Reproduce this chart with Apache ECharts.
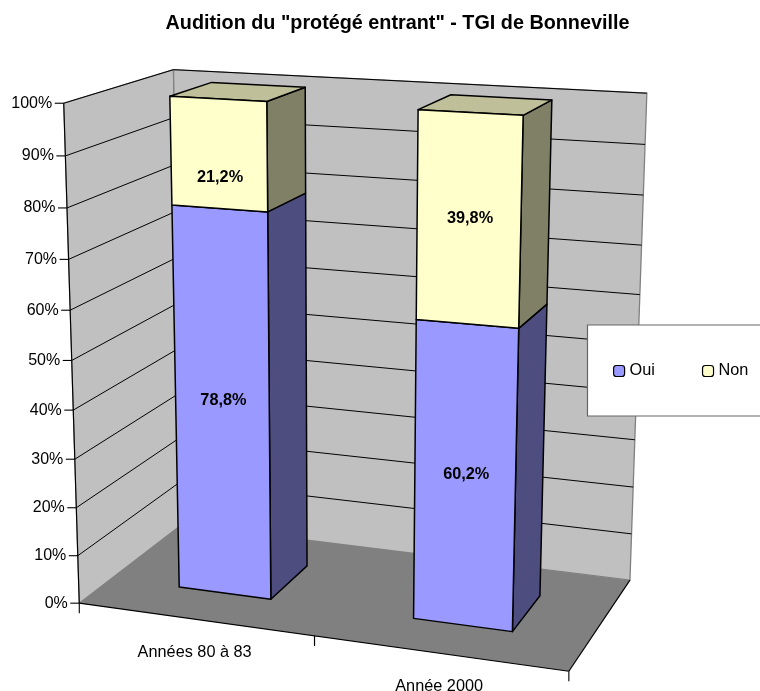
<!DOCTYPE html>
<html><head><meta charset="utf-8">
<style>html,body{margin:0;padding:0;background:#fff}#c{width:760px;height:691px}</style>
<script src="https://cdn.jsdelivr.net/npm/echarts@6/dist/echarts.min.js"></script>
</head><body><div id="c"></div>
<script>
const titleText = 'Audition du "protégé entrant" - TGI de Bonneville';
const categories = ['Années 80 à 83', 'Année 2000'];
const oui = [78.8, 60.2];
const non = [21.2, 39.8];
const yTicks = [0, 10, 20, 30, 40, 50, 60, 70, 80, 90, 100];

const FONT = '"Liberation Sans", Arial, sans-serif';
const G = {left: 0, top: 0, width: 760, height: 691};
const BAR_FRAC = 0.40, Z0 = 0.30, Z1 = 0.705;

// Camera calibration of the 3-D box: [x, y, z] in unit box -> picture position
const cameraFit = [
  [0,0,0, 81,603],[0,1,0, 62.5,103],[0,1,1, 175,70],[0,0,1, 180,525],
  [1,1,1, 647,93],[1,0,1, 631,579],[1,0,0, 568,672],
  [0,.5,0, 71.5,360],[.5,0,0, 315,636],[1,.6,1, 639,295],[1,.3,1, 635,440]
];
function solve(M, b) {
  const n = b.length, A = M.map((r, i) => r.concat(b[i]));
  for (let i = 0; i < n; i++) {
    let p = i; for (let k = i + 1; k < n; k++) if (Math.abs(A[k][i]) > Math.abs(A[p][i])) p = k;
    [A[i], A[p]] = [A[p], A[i]];
    for (let k = i + 1; k < n; k++) { const f = A[k][i] / A[i][i]; for (let j = i; j <= n; j++) A[k][j] -= f * A[i][j]; }
  }
  const x = Array(n).fill(0);
  for (let i = n - 1; i >= 0; i--) { let s = A[i][n]; for (let j = i + 1; j < n; j++) s -= A[i][j] * x[j]; x[i] = s / A[i][i]; }
  return x;
}
const P = (function () {
  const rows = [], rhs = [];
  cameraFit.forEach(([X, Y, Z, a, b]) => {
    const u = a / 1000, v = b / 1000;
    rows.push([X, Y, Z, 1, 0, 0, 0, 0, -u * X, -u * Y, -u * Z]); rhs.push(u);
    rows.push([0, 0, 0, 0, X, Y, Z, 1, -v * X, -v * Y, -v * Z]); rhs.push(v);
  });
  const n = 11, N = [], c = [];
  for (let i = 0; i < n; i++) {
    N.push([]); let s = 0;
    for (let j = 0; j < n; j++) { let t = 0; rows.forEach(r => t += r[i] * r[j]); N[i].push(t); }
    rows.forEach((r, k) => s += r[i] * rhs[k]); c.push(s);
  }
  return solve(N, c);
})();
function proj(X, Y, Z) {
  const w = P[8] * X + P[9] * Y + P[10] * Z + 1;
  return [1000 * (P[0] * X + P[1] * Y + P[2] * Z + P[3]) / w, 1000 * (P[4] * X + P[5] * Y + P[6] * Z + P[7]) / w];
}
const poly = (pts, fill, z2) => ({type: 'polygon', z2: z2 || 0, shape: {points: pts},
  style: {fill, stroke: '#000', lineWidth: 1.5, lineJoin: 'round'}});
const seg = (a, b, stroke, lw, z2) => ({type: 'line', z2: z2 || 1, shape: {x1: a[0], y1: a[1], x2: b[0], y2: b[1]},
  style: {stroke, lineWidth: lw || 1, fill: null}});
const txt = (s, p, font, align, z2) => ({type: 'text', z2: z2 || 5, style: {text: s, x: p[0], y: p[1], font,
  fill: '#000', textAlign: align, textVerticalAlign: 'middle', align, verticalAlign: 'middle'}});

function normY(api, v) { const a = api.coord([0, 0])[1], b = api.coord([0, 100])[1]; return (a - api.coord([0, v])[1]) / (a - b); }
function normX(px) { return (px - G.left) / G.width; }

function renderWalls() {
  const E = '#808080';
  const wall = pts => ({type: 'polygon', shape: {points: pts}, style: {fill: '#C0C0C0', stroke: E, lineWidth: 1.3}});
  const A = proj(0,0,0), B = proj(0,1,0), C = proj(0,1,1), D = proj(0,0,1), Eb = proj(1,1,1), F = proj(1,0,1), H = proj(1,0,0);
  return {type: 'group', children: [
    wall([A, B, C, D]), wall([D, C, Eb, F]),
    {type: 'polygon', shape: {points: [A, D, F, H]}, style: {fill: '#808080'}},
    seg(A, B, '#000', 1.1, 3), seg(A, H, '#000', 1.2, 3), seg(H, F, '#000', 1.2, 3)
  ]};
}
function renderYTick(params, api) {
  const v = api.value(0), y = normY(api, v);
  const f = proj(0, y, 0), b = proj(0, y, 1), r = proj(1, y, 1);
  const ch = [seg([f[0] - 9, f[1]], f, '#000', 1.1), txt(v + '%', [f[0] - 11.5, f[1]], '16px ' + FONT, 'right')];
  if (v > 0) ch.push(seg(f, b, '#000', 1), seg(b, r, '#000', 1));
  return {type: 'group', children: ch};
}
function renderXTick(params, api) {
  const i = api.value(0), c = normX(api.coord([i, 0])[0]), hw = normX(api.size([1, 0])[0]) / 2;
  const ch = [];
  [c - hw, c + hw].forEach(x => { const p = proj(x, 0, 0); ch.push(seg(p, [p[0], p[1] + 10], '#000', 1.1)); });
  const p = proj(c, 0, 0);
  ch.push(txt(categories[i], [p[0], p[1] + 33], '16.3px ' + FONT, 'center'));
  return {type: 'group', children: ch};
}
const labelNudge = {'0_0': 24};
function barRenderer(values, baseValues, frontColor, topColor, sideColor, seriesIdx, withTop) {
  return function (params, api) {
    const i = api.value(0), v = api.value(1), base = baseValues ? baseValues[i] : 0;
    const c = normX(api.coord([i, 0])[0]), hw = normX(api.size([1, 0])[0]) * BAR_FRAC / 2;
    const y0 = normY(api, base), y1 = normY(api, base + v);
    const x0 = c - hw, x1 = c + hw;
    const f00 = proj(x0, y0, Z0), f10 = proj(x1, y0, Z0), f11 = proj(x1, y1, Z0), f01 = proj(x0, y1, Z0);
    const b10 = proj(x1, y0, Z1), b11 = proj(x1, y1, Z1), b01 = proj(x0, y1, Z1);
    const ch = [poly([f10, b10, b11, f11], sideColor)];
    if (withTop) ch.push(poly([f01, f11, b11, b01], topColor));
    ch.push(poly([f00, f10, f11, f01], frontColor, 1));
    const cx = (f00[0] + f10[0] + f11[0] + f01[0]) / 4, cy = (f00[1] + f10[1] + f11[1] + f01[1]) / 4;
    const nudge = labelNudge[seriesIdx + '_' + i] || 0;
    ch.push(txt(String(v).replace('.', ',') + '%', [cx + 1, cy + nudge], 'bold 16.3px ' + FONT, 'center'));
    return {type: 'group', children: ch};
  };
}
const custom = o => Object.assign({type: 'custom', coordinateSystem: 'cartesian2d', clip: false, silent: true, animation: false}, o);

const chart = echarts.init(document.getElementById('c'), null, {renderer: 'canvas', width: 760, height: 691});
chart.setOption({
  animation: false,
  backgroundColor: '#fff',
  title: {text: titleText, left: 397.5, top: 14, textAlign: 'center', padding: 0,
    textStyle: {fontFamily: FONT, fontSize: 19.8, fontWeight: 'bold', color: '#000'}},
  grid: Object.assign({containLabel: false}, G),
  xAxis: {type: 'category', data: categories, show: false},
  yAxis: {type: 'value', min: 0, max: 100, interval: 10, show: false},
  graphic: [{type: 'rect', z: 5, silent: true, shape: {x: 587.5, y: 325, width: 190, height: 91},
    style: {fill: '#fff', stroke: '#666', lineWidth: 1.2}}],
  legend: {data: ['Oui', 'Non'], left: 613, top: 363, orient: 'horizontal', z: 6, itemWidth: 11, itemHeight: 11, itemGap: 47,
    padding: 0,
    itemStyle: {borderColor: '#000', borderWidth: 1.2}, textStyle: {fontFamily: FONT, fontSize: 16.3, color: '#000'}},
  series: [
    custom({name: 'walls', z: 1, data: [[0, 0]], renderItem: renderWalls}),
    custom({name: 'yTicks', z: 2, data: yTicks.map(v => [v]), encode: {x: -1, y: 0}, renderItem: renderYTick}),
    custom({name: 'xTicks', z: 2, data: categories.map((c, i) => [i, 0]), encode: {x: 0, y: 1}, renderItem: renderXTick}),
    custom({name: 'Oui', z: 3, itemStyle: {color: '#9999FF', borderColor: '#000'}, data: oui.map((v, i) => [i, v]), encode: {x: 0, y: 1},
      renderItem: barRenderer(oui, null, '#9999FF', '#7373BF', '#4D4D80', 1, false)}),
    custom({name: 'Non', z: 4, itemStyle: {color: '#FFFFCC', borderColor: '#000'}, data: non.map((v, i) => [i, v]), encode: {x: 0, y: 1},
      renderItem: barRenderer(non, oui, '#FFFFCC', '#BFBF99', '#808066', 0, true)})
  ]
});
</script></body></html>
